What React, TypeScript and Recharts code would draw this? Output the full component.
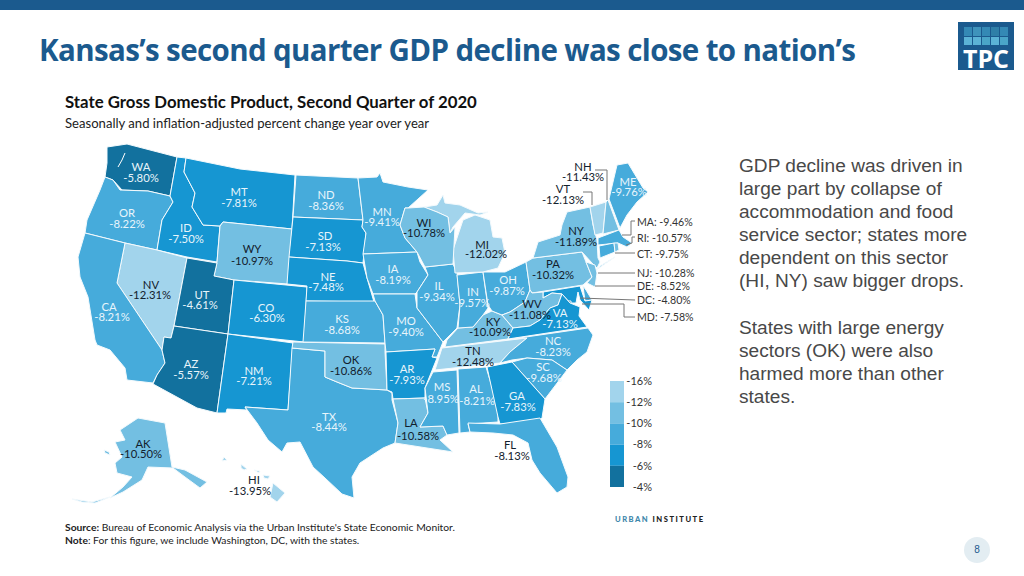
import { ScatterChart, Scatter, XAxis, YAxis, ReferenceArea } from 'recharts';

type Pair = [number, number];

// map units of the outlines below
const mapWidth = 1024;
const mapHeight = 576;

const stateCodes = ['WA','OR','ID','MT','WY','NV','CA','UT','AZ','CO','NM','TX','OK','ND','SD','NE','KS','MN','IA','MO','AR','LA','MS','AL','TN','KY','IL','IN','OH','MI','WI','PA','NY','VT','NH','ME','MA','CT','RI','NJ','DE','MD','DC','WV','VA','NC','SC','GA','FL','AK','HI'];
const stateValues = [-5.8,-8.22,-7.5,-7.81,-10.97,-12.31,-8.21,-4.61,-5.57,-6.3,-7.21,-8.44,-10.86,-8.36,-7.13,-7.48,-8.68,-9.41,-8.19,-9.4,-7.93,-10.58,-8.95,-8.21,-12.48,-10.09,-9.34,-9.57,-9.87,-12.02,-10.78,-10.32,-11.89,-12.13,-11.43,-9.76,-9.46,-9.75,-10.57,-10.28,-8.52,-7.58,-4.8,-11.08,-7.13,-8.23,-9.68,-7.83,-8.13,-10.5,-13.95];

const outlines: Record<string, Pair[][]> = {
  WA: [[[107,147],[127,144],[177,157],[170,196],[148,191],[122,190],[113,180],[105,177],[107,163]]],
  OR: [[[105,177],[113,180],[120,190],[148,191],[170,196],[173,202],[162,220],[157,250],[125,243],[85,233],[87,220],[100,190]]],
  ID: [[[177,157],[186,158],[184,172],[195,193],[192,207],[203,225],[220,226],[217,262],[187,257],[157,250],[162,220],[173,202],[170,196]]],
  MT: [[[186,158],[240,169],[295,175],[292,229],[223,222],[220,226],[203,225],[192,207],[195,193],[184,172]]],
  WY: [[[223,222],[292,229],[288,284],[234,280],[214,276],[217,262],[220,226]]],
  NV: [[[125,243],[157,250],[187,258],[174,326],[171,338],[164,337],[162,350],[117,283]]],
  CA: [[[85,233],[125,243],[117,283],[162,350],[165,363],[157,375],[153,383],[127,380],[125,368],[110,350],[97,345],[95,340],[88,297],[80,277],[78,257]]],
  UT: [[[187,258],[217,263],[214,276],[234,280],[228,334],[174,326]]],
  AZ: [[[174,326],[228,334],[217,413],[197,408],[153,384],[157,375],[165,363],[162,350],[164,337],[171,338]]],
  CO: [[[234,280],[307,287],[304,342],[228,334]]],
  NM: [[[228,334],[293,343],[288,410],[245,407],[247,410],[227,409],[226,413],[217,413]]],
  TX: [[[292,348],[325,351],[325,377],[337,382],[352,388],[370,389],[387,390],[392,393],[392,400],[398,423],[395,443],[383,448],[360,463],[352,477],[354,498],[342,494],[325,478],[313,467],[300,442],[287,443],[282,452],[268,440],[257,423],[245,407],[288,410]]],
  OK: [[[293,342],[385,344],[385,352],[387,390],[370,389],[352,388],[337,382],[325,377],[325,351],[292,348]]],
  ND: [[[296,175],[358,178],[363,220],[293,217]]],
  SD: [[[293,217],[363,220],[362,227],[366,233],[363,263],[347,261],[289,257]]],
  NE: [[[289,257],[347,261],[363,263],[367,278],[374,302],[306,301],[307,286],[287,284]]],
  KS: [[[306,301],[375,301],[383,315],[385,343],[303,342]]],
  MN: [[[358,178],[377,177],[380,173],[383,182],[408,187],[428,190],[408,208],[405,208],[400,225],[405,238],[417,252],[363,254],[366,233],[362,227],[363,220]]],
  IA: [[[363,254],[417,252],[420,262],[428,275],[417,292],[415,294],[373,294],[367,278]]],
  MO: [[[373,294],[415,294],[417,308],[430,325],[443,342],[437,357],[432,357],[435,349],[386,352],[385,343],[383,315],[375,301]]],
  AR: [[[386,352],[435,349],[432,357],[437,358],[425,388],[425,398],[393,399],[392,392],[387,390]]],
  LA: [[[393,399],[425,398],[428,413],[420,427],[443,426],[447,435],[440,440],[453,452],[427,448],[395,443],[398,423]]],
  MS: [[[433,372],[457,370],[459,433],[447,435],[443,426],[420,427],[428,413],[425,388]]],
  AL: [[[458,369],[486,367],[498,407],[498,422],[468,424],[470,432],[460,433]]],
  TN: [[[442,348],[527,338],[510,352],[500,363],[435,370]]],
  KY: [[[445,347],[447,340],[458,328],[473,327],[483,315],[492,311],[502,315],[513,328],[508,339]]],
  IL: [[[425,267],[453,264],[457,273],[460,305],[457,328],[447,338],[443,342],[430,325],[417,308],[417,292],[428,275]]],
  IN: [[[457,275],[483,272],[488,308],[483,315],[473,327],[458,328],[460,305]]],
  OH: [[[483,272],[505,272],[526,262],[530,290],[525,302],[510,312],[502,315],[492,311],[488,305]]],
  MI: [
    [[455,273],[453,250],[463,220],[475,215],[490,220],[493,237],[502,238],[505,253],[498,268],[483,272]],
    [[424,207],[437,205],[443,195],[445,203],[460,205],[478,213],[488,212],[480,215],[465,213],[453,227],[450,233],[448,217],[437,212]],
  ],
  WI: [[[405,208],[408,208],[424,207],[437,212],[448,217],[450,233],[455,227],[453,264],[425,267],[417,252],[405,238],[400,225]]],
  PA: [[[526,262],[533,258],[582,252],[586,262],[592,277],[583,285],[532,293],[530,290]]],
  NY: [
    [[533,258],[538,242],[560,235],[562,225],[567,212],[590,207],[593,225],[597,240],[598,258],[600,262],[597,268],[592,263],[582,252]],
    [[596,270],[615,257],[600,266]],
  ],
  VT: [[[590,207],[606,202],[603,233],[595,235]]],
  NH: [[[606,202],[608,200],[619,230],[603,234]]],
  ME: [[[609,199],[617,165],[628,163],[643,188],[648,192],[637,202],[627,215],[620,228]]],
  MA: [[[598,238],[619,230],[623,237],[632,243],[627,247],[618,243],[598,245]]],
  CT: [[[599,246],[614,243],[615,252],[600,258]]],
  RI: [[[614,243],[618,243],[619,250],[615,252]]],
  NJ: [[[586,262],[595,265],[597,273],[595,287],[587,283],[592,277]]],
  DE: [[[583,286],[586,290],[592,300],[585,301]]],
  MD: [[[543,292],[580,286],[585,301],[592,300],[589,310],[580,300],[578,292],[576,303],[570,303],[562,294],[552,293],[543,298]]],
  DC: [[[568,301],[571,301],[571,304],[568,304]]],
  WV: [[[530,290],[532,293],[543,292],[543,298],[552,293],[562,294],[558,305],[550,308],[540,320],[530,326],[513,328],[502,315],[510,312],[525,302]]],
  VA: [[[508,339],[513,328],[530,326],[540,320],[550,308],[558,305],[562,294],[570,303],[580,307],[579,316],[587,327]]],
  NC: [[[512,339],[588,328],[593,335],[587,352],[577,360],[567,370],[552,360],[527,358],[512,360],[500,363],[510,352],[527,338]]],
  SC: [[[512,362],[527,358],[552,360],[567,370],[545,399],[528,380]]],
  GA: [[[487,367],[512,362],[528,380],[545,399],[542,418],[537,423],[500,424],[498,417]]],
  FL: [[[468,423],[500,424],[540,418],[557,447],[568,477],[567,487],[557,493],[540,473],[532,460],[528,443],[513,435],[493,433],[470,432]]],
  AK: [
    [[120,430],[138,418],[165,423],[172,467],[185,470],[207,482],[200,488],[185,477],[173,468],[148,467],[142,480],[123,492],[110,498],[123,487],[132,477],[117,473],[115,463],[122,457],[115,442],[125,440]],
    [[104,450],[109,452],[110,455],[105,453]],
    [[72,499],[85,501],[92,502],[110,497],[95,503],[82,502]],
  ],
  HI: [
    [[273,483],[285,493],[277,502],[270,497]],
    [[224,457],[227,460],[222,461]],
    [[241,464],[247,469],[244,470],[241,468]],
    [[254,470],[260,471],[259,473]],
    [[263,475],[270,476],[268,479],[264,478]],
  ],
};

// state name and value label anchors
const namePoints: Pair[] = [[141,167],[127,213],[186,228],[239,192],[252,249],[151,285],[109,307],[202,295],[191,364],[266,308],[254,371],[329,417],[351,360],[326,195],[325,236],[328,277],[342,319],[382,212],[393,269],[406,321],[407,369],[411,423],[442,387],[476,389],[473,351],[493,322],[439,286],[473,292],[508,280],[482,245],[424,223],[553,264],[576,231],[563,189],[583,167],[628,182],[0,0],[0,0],[0,0],[0,0],[0,0],[0,0],[0,0],[532,304],[560,313],[553,341],[543,367],[517,396],[510,445],[143,444],[254,480]];
const valuePoints: Pair[] = [[141,178],[127,224],[186,239],[239,203],[252,261],[150,295],[112,317],[200,305],[191,375],[267,318],[254,381],[329,427],[351,371],[326,206],[323,247],[326,287],[342,330],[382,222],[393,280],[406,332],[407,380],[418,436],[441,399],[477,401],[473,362],[490,332],[437,297],[472,303],[507,291],[486,254],[424,233],[553,275],[576,242],[563,200],[583,177],[629,192],[0,0],[0,0],[0,0],[0,0],[0,0],[0,0],[0,0],[530,315],[560,324],[553,352],[544,378],[518,407],[512,456],[141,454],[250,491]];

// the small states are named beside the map
const sideCodes = ['MA','RI','CT','NJ','DE','DC','MD'];
const sideLabels = ['MA: -9.46%','RI: -10.57%','CT: -9.75%','NJ: -10.28%','DE: -8.52%','DC: -4.80%','MD: -7.58%'];
const sidePoints: Pair[] = [[637,222],[637,238],[637,254],[637,273],[637,286],[637,300],[637,317]];

const leaderLines: Pair[][] = [
  [[595,170],[607,170],[607,200]],
  [[583,192],[592,192],[592,205]],
  [[635,221],[631,221],[631,235],[622,235]],
  [[635,237],[632,237],[632,243],[626,245]],
  [[635,253],[615,253]],
  [[635,273],[598,273]],
  [[635,286],[595,286]],
  [[635,300],[580,298]],
  [[635,317],[624,317],[624,304],[582,304]],
];

const waterLines: Pair[][] = [
  [[125,153],[122,160],[118,167]],
];

const legendStops = ['-16%','-12%','-10%','-8%','-6%','-4%'];
const legendColors = ['#a2d4ec','#73bfe2','#46abdb','#1696d2','#12719e'];
const legendTop = 381;
const legendStep = 21.2;

function colorFor(v: number) {
  if (v > -6) return '#12719e';
  if (v > -8) return '#1696d2';
  if (v > -10) return '#46abdb';
  if (v > -12) return '#73bfe2';
  return '#a2d4ec';
}

const toRows = (pts: Pair[]) => pts.map(([x, y]) => ({ x, y }));

const labelFont = 'Lato, sans-serif';

const stateLabels = stateCodes
  .map((code, i) => ({ code, value: stateValues[i], name: namePoints[i], val: valuePoints[i] }))
  .filter((s) => !sideCodes.includes(s.code));

// Florida's label sits out in the gulf, so it stays dark
const labelColor = (code: string, v: number) => (v > -10 && code !== 'FL' ? '#e8f5fb' : '#12202c');

const nameRows = stateLabels.map((s) => ({ x: s.name[0], y: s.name[1], label: s.code, color: labelColor(s.code, s.value) }));
const valueRows = stateLabels.map((s) => ({ x: s.val[0], y: s.val[1], label: s.value.toFixed(2) + '%', color: labelColor(s.code, s.value) }));
const sideRows = sidePoints.map(([x, y], i) => ({ x, y, label: sideLabels[i] }));
const legendRows = legendStops.map((label, i) => ({ x: 652, y: legendTop + i * legendStep, label }));

const MapLabel = (props: any) => (
  <text x={props.cx} y={props.cy} dy="0.35em" textAnchor="middle" fontFamily={labelFont} fontSize={11.3} fill={props.payload.color}>
    {props.payload.label}
  </text>
);

const SideLabel = (props: any) => (
  <text x={props.cx} y={props.cy} dy="0.35em" fontFamily={labelFont} fontSize={10.6} fill="#333">
    {props.payload.label}
  </text>
);

const LegendLabel = (props: any) => (
  <text x={props.cx} y={props.cy} dy="0.35em" textAnchor="end" fontFamily={labelFont} fontSize={11} fill="#333">
    {props.payload.label}
  </text>
);

const noDot = () => null;

const bodyLines = [
  'GDP decline was driven in',
  'large part by collapse of',
  'accommodation and food',
  'service sector; states more',
  'dependent on this sector',
  '(HI, NY) saw bigger drops.',
];
const bodyLines2 = ['States with large energy', 'sectors (OK) were also', 'harmed more than other', 'states.'];

const logoTiles = ['#3489b5','#3f93bb','#3489b5','#2f7fa8','#3489b5','#5cb3d6','#5cb3d6','#4aa5c8','#5cb3d6','#4aa5c8'];

function abs(left: number, top: number, extra: React.CSSProperties = {}): React.CSSProperties {
  return { position: 'absolute', left, top, whiteSpace: 'nowrap', ...extra };
}

export default function App() {
  return (
    <div style={{ position: 'fixed', left: 0, top: 0, width: 1024, height: 576, background: '#fff', overflow: 'hidden' }}>
      <div style={abs(0, 0, { width: 1024, height: 10, background: '#1b5a8e' })} />
      <div style={abs(39, 30, { fontFamily: '"Open Sans", sans-serif', fontWeight: 700, fontSize: 29.5, letterSpacing: -0.62, color: '#1b5a8e', lineHeight: '40px' })}>
        Kansas’s second quarter GDP decline was close to nation’s
      </div>

      <div style={abs(958, 22, { width: 56, height: 48, background: '#1b5a8e' })}>
        <div style={{ position: 'absolute', left: 6, top: 5, width: 46, display: 'grid', gridTemplateColumns: 'repeat(5, 8px)', gap: 1 }}>
          {logoTiles.map((c, i) => (
            <div key={i} style={{ height: 8.5, background: c }} />
          ))}
        </div>
        <div style={{ position: 'absolute', left: 0, right: 0, top: 24, textAlign: 'center', color: '#fff', fontFamily: '"Open Sans", sans-serif', fontWeight: 700, fontSize: 25, lineHeight: '24px' }}>
          TPC
        </div>
      </div>

      <div style={abs(65, 91, { fontFamily: labelFont, fontWeight: 700, fontSize: 16.8, color: '#111', lineHeight: '22px' })}>
        State Gross Domestic Product, Second Quarter of 2020
      </div>
      <div style={abs(65, 114, { fontFamily: labelFont, fontSize: 13.1, color: '#222', lineHeight: '18px' })}>
        Seasonally and inflation-adjusted percent change year over year
      </div>

      <ScatterChart width={mapWidth} height={mapHeight} margin={{ top: 0, right: 0, bottom: 0, left: 0 }} style={{ position: 'absolute', left: 0, top: 0 }}>
        <XAxis type="number" dataKey="x" domain={[0, mapWidth]} hide />
        <YAxis type="number" dataKey="y" domain={[0, mapHeight]} reversed hide />
        {stateCodes.flatMap((code, i) =>
          outlines[code].map((poly, j) => (
            <Scatter
              key={code + j}
              data={toRows([...poly, poly[0]])}
              shape={noDot}
              line={{ fill: colorFor(stateValues[i]), stroke: '#f4fafd', strokeWidth: 1 }}
              isAnimationActive={false}
            />
          )),
        )}
        {waterLines.map((pts, i) => (
          <Scatter key={'w' + i} data={toRows(pts)} shape={noDot} line={{ fill: 'none', stroke: '#fff', strokeWidth: 1 }} isAnimationActive={false} />
        ))}
        {leaderLines.map((pts, i) => (
          <Scatter key={'l' + i} data={toRows(pts)} shape={noDot} line={{ fill: 'none', stroke: '#777', strokeWidth: 1 }} isAnimationActive={false} />
        ))}
        {legendColors.map((c, i) => (
          <ReferenceArea
            key={c}
            x1={610}
            x2={624}
            y1={legendTop + i * legendStep}
            y2={legendTop + (i + 1) * legendStep}
            fill={c}
            fillOpacity={1}
            stroke="none"
          />
        ))}
        <Scatter data={nameRows} shape={MapLabel} isAnimationActive={false} />
        <Scatter data={valueRows} shape={MapLabel} isAnimationActive={false} />
        <Scatter data={sideRows} shape={SideLabel} isAnimationActive={false} />
        <Scatter data={legendRows} shape={LegendLabel} isAnimationActive={false} />
      </ScatterChart>

      <div style={abs(739, 153.5, { fontFamily: '"Liberation Sans", sans-serif', fontSize: 19.1, lineHeight: '23px', color: '#484848' })}>
        {bodyLines.map((l) => (
          <div key={l}>{l}</div>
        ))}
      </div>
      <div style={abs(739, 315.5, { fontFamily: '"Liberation Sans", sans-serif', fontSize: 19.1, lineHeight: '23px', color: '#484848' })}>
        {bodyLines2.map((l) => (
          <div key={l}>{l}</div>
        ))}
      </div>

      <div style={abs(65, 520, { fontFamily: labelFont, fontSize: 10.3, color: '#222', lineHeight: '14px' })}>
        <b>Source:</b> Bureau of Economic Analysis via the Urban Institute's State Economic Monitor.
      </div>
      <div style={abs(65, 533, { fontFamily: labelFont, fontSize: 10.3, color: '#222', lineHeight: '14px' })}>
        <b>Note</b>: For this figure, we include Washington, DC, with the states.
      </div>

      <div style={abs(615, 513, { fontFamily: labelFont, fontWeight: 900, fontSize: 7.6, letterSpacing: 1.5, lineHeight: '12px', color: '#222' })}>
        <span style={{ color: '#3f87ab' }}>URBAN</span> INSTITUTE
      </div>

      <div style={abs(964, 537, { width: 26, height: 26, borderRadius: 13, background: '#e3edf2', textAlign: 'center', lineHeight: '26px', fontFamily: '"Liberation Sans", sans-serif', fontSize: 10, color: '#1b5a8e' })}>
        8
      </div>
    </div>
  );
}
